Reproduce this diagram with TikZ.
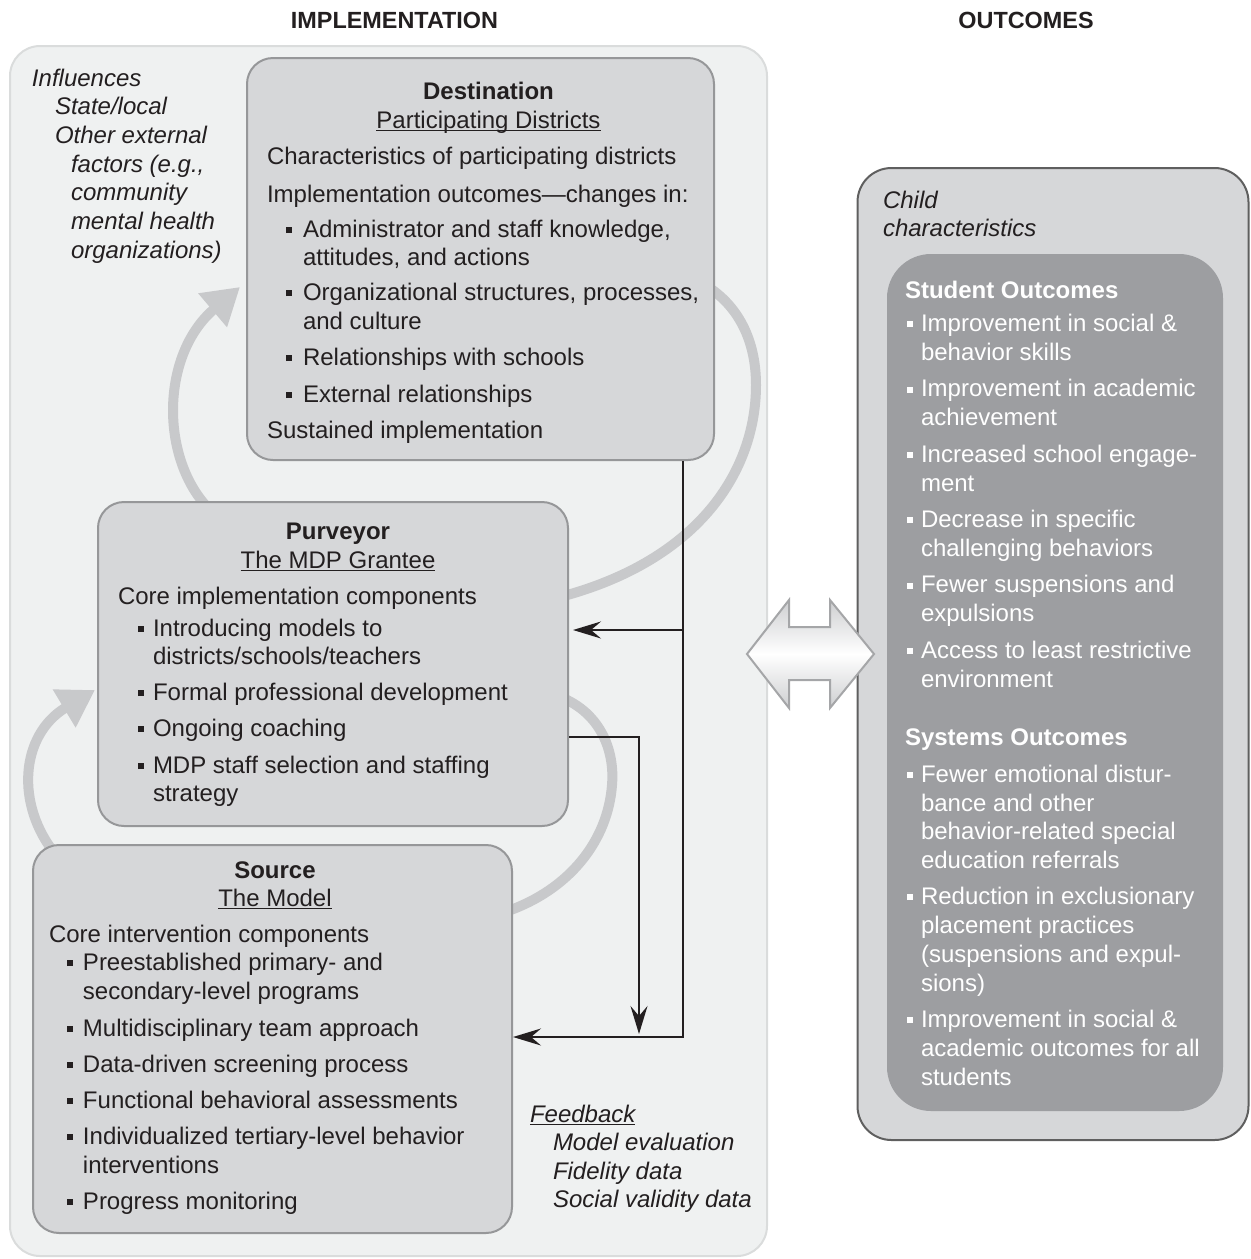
\documentclass[tikz,border=0pt]{standalone}
\usepackage{fontspec}
\setmainfont{Liberation Sans}
\usetikzlibrary{arrows.meta}
\definecolor{ink}{RGB}{35,31,32}
\definecolor{implbg}{RGB}{239,241,241}
\definecolor{implbd}{RGB}{218,220,220}
\definecolor{boxbg}{RGB}{214,215,217}
\definecolor{boxbd}{RGB}{150,151,153}
\definecolor{outbd}{RGB}{95,95,95}
\definecolor{innerbg}{RGB}{157,158,161}
\definecolor{loopc}{RGB}{200,201,203}
\definecolor{dblbd}{RGB}{165,166,168}
\definecolor{dblg}{RGB}{206,207,209}
\newcounter{tn}
\newcommand\sq{\rule[1.9pt]{3pt}{3pt}}
\newcommand\ul[1]{\setbox0=\hbox{#1}\rlap{\rule[-1.6pt]{\wd0}{0.6pt}}\box0}
\newcommand\T[4][]{\stepcounter{tn}\node[txt,#1] (t\arabic{tn}) at (#2,#3) {#4};}
\newcommand\Bl[5][]{\T[#1]{#2}{#4}{\sq}\T[#1]{#3}{#4}{#5}}
\begin{document}
\begin{tikzpicture}[x=0.5pt,y=-0.5pt,
 txt/.style={anchor=base west, inner sep=0pt, outer sep=0pt, text=ink, font=\fontsize{12}{14.5}\selectfont},
 ctr/.style={anchor=base},
 wt/.style={text=white},
 it/.style={font=\fontsize{12}{14.5}\selectfont\itshape},
 bf/.style={font=\fontsize{12}{14.5}\selectfont\bfseries},
 ttl/.style={font=\fontsize{11.7}{14}\selectfont\bfseries},
 box/.style={draw=boxbd, line width=1pt, fill=boxbg, rounded corners=13pt, inner sep=0pt},
 blk/.style={draw=ink, line width=1pt},
 tip/.style={-{Stealth[length=14pt,width=8.5pt,inset=5pt]}},
 loopline/.style={draw=loopc, line width=5pt},
 looparrow/.style={loopline, -{Triangle[length=18pt,width=21pt]}}]
\useasboundingbox (0,0) rectangle (1250,1259);
% background panels
\node[draw=implbd, line width=1pt, fill=implbg, rounded corners=15pt, inner sep=0pt,
  minimum width=378.5pt, minimum height=605pt] (impl) at (388.5,651) {};
\node[draw=outbd, line width=1pt, fill=boxbg, rounded corners=17pt, inner sep=0pt,
  minimum width=195.5pt, minimum height=486pt] (outc) at (1053,654) {};
\node[fill=innerbg, rounded corners=22pt, inner sep=0pt,
  minimum width=168pt, minimum height=428.5pt] (inner) at (1055,682.5) {};
% titles
\T[ctr,ttl]{394.5}{28}{IMPLEMENTATION}
\T[ctr,ttl]{1026}{28}{OUTCOMES}
% gray loops
\draw[looparrow] (56,855) .. controls (15,805) and (20,735) .. (95,690);
\draw[looparrow] (210,510) .. controls (160,460) and (160,355) .. (240,287);
\draw[loopline] (705,285) .. controls (738,305) and (756,340) .. (756,385) .. controls (756,470) and (700,560) .. (560,597);
\draw[loopline] (555,695) .. controls (600,710) and (615,750) .. (612,785) .. controls (608,840) and (570,890) .. (505,912);
% boxes
\node[box, minimum width=233.5pt, minimum height=201pt] (dest) at (480.5,259) {};
\node[box, minimum width=235pt, minimum height=162pt] (purv) at (333,664) {};
\node[box, minimum width=239.5pt, minimum height=194pt] (src) at (272.5,1039) {};
% black feedback connectors
\coordinate (v1) at (683,630);
\coordinate (v2) at (683,1037);
\coordinate (h1) at (639,737);
\coordinate (h2) at (639,1037);
\draw[blk,tip] (dest.south -| v1) -- (v2) -- (src.east |- v2);
\draw[blk,tip,shorten >=2pt] (v1) -- (purv.east |- v1);
\draw[blk,tip,shorten >=1.5pt] (purv.east |- h1) -- (h1) -- (h2);
% double arrow
\shadedraw[top color=dblg, bottom color=dblg, middle color=white, draw=dblbd, line width=1pt]
 (747,654) -- (789,600) -- (789,627) -- (830,627) -- (830,600) -- (874,654) -- (830,708) -- (830,680) -- (789,680) -- (789,708) -- cycle;
% influences
\T[it]{32}{86}{Influences}
\T[it]{55}{114}{State/local}
\T[it]{55}{143}{Other external}
\T[it]{71}{172}{factors (e.g.,}
\T[it]{71}{200}{community}
\T[it]{71}{229}{mental health}
\T[it]{71}{258}{organizations)}
% destination
\T[ctr,bf]{488.5}{99}{Destination}
\T[ctr]{488.5}{128}{\ul{Participating Districts}}
\T{267}{164}{Characteristics of participating districts}
\T{267}{202}{Implementation outcomes—changes in:}
\Bl{286}{303}{237}{Administrator and staff knowledge,}
\T{303}{265}{attitudes, and actions}
\Bl{286}{303}{300}{Organizational structures, processes,}
\T{303}{329}{and culture}
\Bl{286}{303}{365}{Relationships with schools}
\Bl{286}{303}{402}{External relationships}
\T{267}{438}{Sustained implementation}
% purveyor
\T[ctr,bf]{338}{539}{Purveyor}
\T[ctr]{338}{568}{\ul{The MDP Grantee}}
\T{118}{604}{Core implementation components}
\Bl{138}{153}{636}{Introducing models to}
\T{153}{664}{districts/schools/teachers}
\Bl{138}{153}{700}{Formal professional development}
\Bl{138}{153}{736}{Ongoing coaching}
\Bl{138}{153}{773}{MDP staff selection and staffing}
\T{153}{801}{strategy}
% source
\T[ctr,bf]{275}{878}{Source}
\T[ctr]{275}{906}{\ul{The Model}}
\T{49}{942}{Core intervention components}
\Bl{67}{83}{970}{Preestablished primary- and}
\T{83}{999}{secondary-level programs}
\Bl{67}{83}{1036}{Multidisciplinary team approach}
\Bl{67}{83}{1072}{Data-driven screening process}
\Bl{67}{83}{1108}{Functional behavioral assessments}
\Bl{67}{83}{1144}{Individualized tertiary-level behavior}
\T{83}{1173}{interventions}
\Bl{67}{83}{1209}{Progress monitoring}
% feedback
\T[it]{530}{1122}{\ul{Feedback}}
\T[it]{553}{1150}{Model evaluation}
\T[it]{553}{1179}{Fidelity data}
\T[it]{553}{1207}{Social validity data}
% outcomes
\T[it]{883}{208}{Child}
\T[it]{883}{236}{characteristics}
\T[bf,wt]{905}{298}{Student Outcomes}
\Bl[wt]{907}{921}{331}{Improvement in social \&}
\T[wt]{921}{360}{behavior skills}
\Bl[wt]{907}{921}{396.5}{Improvement in academic}
\T[wt]{921}{425.5}{achievement}
\Bl[wt]{907}{921}{462}{Increased school engage-}
\T[wt]{921}{491}{ment}
\Bl[wt]{907}{921}{527}{Decrease in specific}
\T[wt]{921}{556}{challenging behaviors}
\Bl[wt]{907}{921}{592.5}{Fewer suspensions and}
\T[wt]{921}{621.5}{expulsions}
\Bl[wt]{907}{921}{658}{Access to least restrictive}
\T[wt]{921}{687}{environment}
\T[bf,wt]{905}{745}{Systems Outcomes}
\Bl[wt]{907}{921}{782}{Fewer emotional distur-}
\T[wt]{921}{811}{bance and other}
\T[wt]{921}{839}{behavior-related special}
\T[wt]{921}{868}{education referrals}
\Bl[wt]{907}{921}{904}{Reduction in exclusionary}
\T[wt]{921}{933}{placement practices}
\T[wt]{921}{962}{(suspensions and expul-}
\T[wt]{921}{991}{sions)}
\Bl[wt]{907}{921}{1027}{Improvement in social \&}
\T[wt]{921}{1056}{academic outcomes for all}
\T[wt]{921}{1085}{students}
\end{tikzpicture}
\end{document}
